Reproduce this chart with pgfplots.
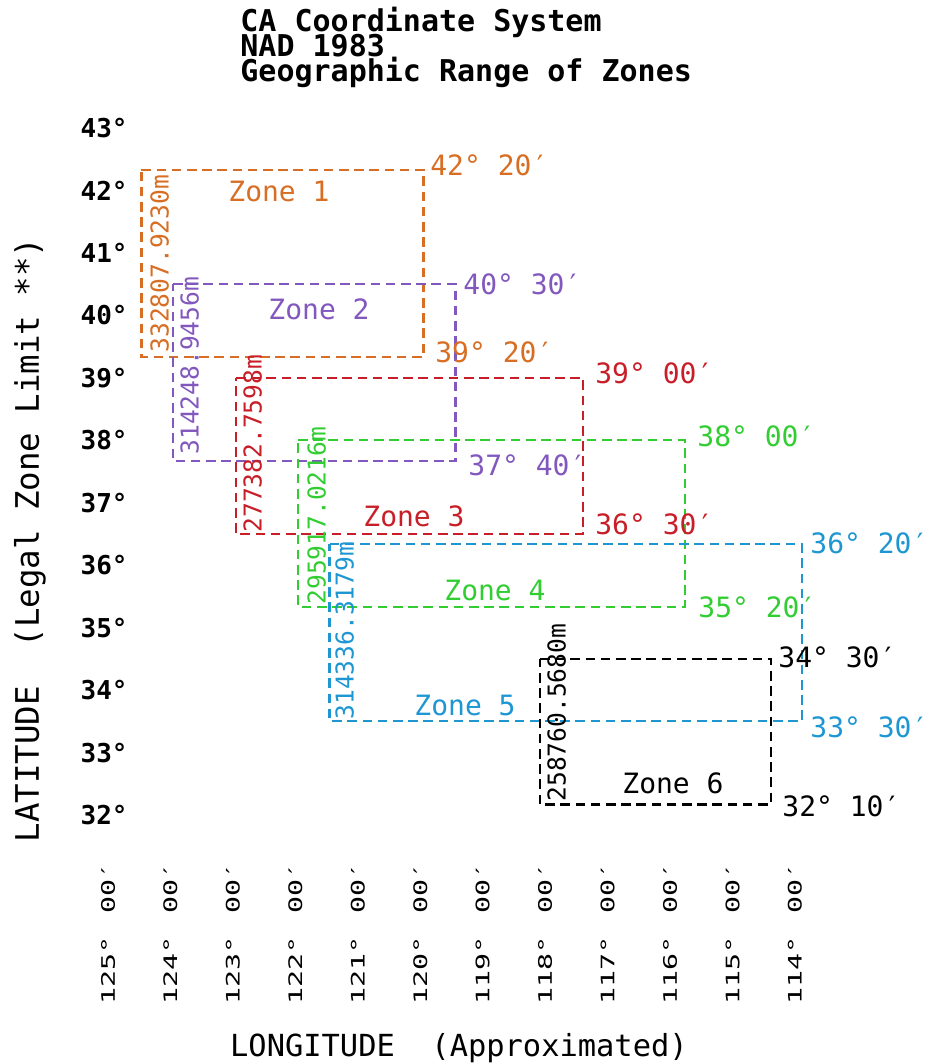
\documentclass[border=0pt]{standalone}
\usepackage{fontspec}
\setmainfont{DejaVu Sans Mono}
\newfontfamily\xtfont[FakeStretch=1.52]{DejaVu Sans Mono}
\usepackage{pgfplots}
\pgfplotsset{compat=1.18}
\definecolor{zA}{RGB}{215,110,35}
\definecolor{zB}{RGB}{130,88,190}
\definecolor{zC}{RGB}{200,30,40}
\definecolor{zD}{RGB}{50,205,50}
\definecolor{zE}{RGB}{30,150,210}
\definecolor{zF}{RGB}{0,0,0}
\newcommand{\xt}[1]{#1° \hspace{3pt}00′}
\newcommand{\titlefont}{\bfseries\fontsize{15}{12.4}\selectfont\lineskiplimit -30pt\relax}
\tikzset{
  lab/.style={font=\fontsize{14}{16}\selectfont, inner sep=0pt},
  vt/.style={rotate=90, anchor=north west, inner sep=0pt, font=\fontsize{12.3}{14}\selectfont},
  cl/.style={anchor=base west, inner sep=0pt, font=\fontsize{14}{16}\selectfont},
}
\begin{document}
\begin{tikzpicture}
\begin{axis}[
  scale only axis, width=384.07pt, height=376.0pt,
  x dir=reverse, xmin=113.0, xmax=125.3, ymin=31.2474, ymax=43.289,
  enlargelimits=false, clip=false,
  axis line style={draw=none}, major tick length=0pt,
  xtick={114,115,116,117,118,119,120,121,122,123,124,125},
  xticklabels={\xt{114},\xt{115},\xt{116},\xt{117},\xt{118},\xt{119},\xt{120},\xt{121},\xt{122},\xt{123},\xt{124},\xt{125}},
  xticklabel style={rotate=90, anchor=east, inner sep=0pt, font=\xtfont\fontsize{9.3}{11}\selectfont},
  ytick={32,33,34,35,36,37,38,39,40,41,42,43},
  yticklabels={32°,33°,34°,35°,36°,37°,38°,39°,40°,41°,42°,43°},
  yticklabel style={anchor=east, inner sep=0pt, xshift=19.37pt, font=\bfseries\fontsize{13}{15}\selectfont},
  xlabel={LONGITUDE\ \ (Approximated)},
  xlabel style={at={(axis description cs:0.4813,-0.2580)}, anchor=base, inner sep=0pt, font=\fontsize{15.2}{17}\selectfont},
  ylabel={LATITUDE\ \ (Legal Zone Limit **)},
  ylabel style={at={(axis description cs:-0.0772,0.4282)}, anchor=center, rotate=0, inner sep=0pt, font=\fontsize{16.2}{18}\selectfont},
  zone/.style={line width=1.1pt, dash pattern=on 4.8pt off 2.8pt, no marks, sharp plot},
]
% Zone 1
\addplot[zone, zA] coordinates {(124.464,42.333) (119.948,42.333) (119.948,39.333) (124.464,39.333) (124.464,42.333)};
% Zone 2
\addplot[zone, zB] coordinates {(123.959,40.5) (119.436,40.5) (119.436,37.667) (123.959,37.667) (123.959,40.5)};
% Zone 3
\addplot[zone, zC] coordinates {(122.950,39.0) (117.394,39.0) (117.394,36.5) (122.950,36.5) (122.950,39.0)};
% Zone 4
\addplot[zone, zD] coordinates {(121.958,38.0) (115.761,38.0) (115.761,35.333) (121.958,35.333) (121.958,38.0)};
% Zone 5
\addplot[zone, zE] coordinates {(121.453,36.333) (113.887,36.333) (113.887,33.5) (121.453,33.5) (121.453,36.333)};
% Zone 6
\addplot[zone, zF] coordinates {(118.083,34.5) (114.384,34.5) (114.384,32.167) (118.083,32.167) (118.083,34.5)};

% zone names
\node[lab, text=zA] at (axis cs:122.262,41.976) {Zone 1};
\node[lab, text=zB] at (axis cs:121.621,40.102) {Zone 2};
\node[lab, text=zC] at (axis cs:120.100,36.788) {Zone 3};
\node[lab, text=zD] at (axis cs:118.803,35.587) {Zone 4};
\node[lab, text=zE] at (axis cs:119.283,33.761) {Zone 5};
\node[lab, text=zF] at (axis cs:115.953,32.512) {Zone 6};

% vertical widths
\node[vt, text=zA] at (axis cs:124.327,39.398) {332807.9230m};
\node[vt, text=zB] at (axis cs:123.847,37.765) {314248.9456m};
\node[vt, text=zC] at (axis cs:122.838,36.516) {277382.7598m};
\node[vt, text=zD] at (axis cs:121.813,35.363) {295917.0216m};
\node[vt, text=zE] at (axis cs:121.365,33.521) {314336.3179m};
\node[vt, text=zF] at (axis cs:117.970,32.208) {258760.5680m};

% corner labels
\node[cl, text=zA] at (axis cs:119.844,42.232) {42° 20′};
\node[cl, text=zA] at (axis cs:119.764,39.238) {39° 20′};
\node[cl, text=zB] at (axis cs:119.315,40.327) {40° 30′};
\node[cl, text=zB] at (axis cs:119.235,37.444) {37° 40′};
\node[cl, text=zC] at (axis cs:117.202,38.902) {39° 00′};
\node[cl, text=zC] at (axis cs:117.202,36.484) {36° 30′};
\node[cl, text=zD] at (axis cs:115.568,37.893) {38° 00′};
\node[cl, text=zD] at (axis cs:115.552,35.155) {35° 20′};
\node[cl, text=zE] at (axis cs:113.759,36.195) {36° 20′};
\node[cl, text=zE] at (axis cs:113.759,33.233) {33° 30′};
\node[cl, text=zF] at (axis cs:114.271,34.354) {34° 30′};
\node[cl, text=zF] at (axis cs:114.207,31.968) {32° 10′};

% title
\node[anchor=north west, inner sep=0pt, align=left, font=\titlefont] at (axis cs:122.886,44.935) {CA Coordinate System\\NAD 1983\\Geographic Range of Zones};

\coordinate (bbA) at (axis cs:126.7294,28.0288);
\coordinate (bbB) at (axis cs:111.8054,45.0504);
\end{axis}
\pgfresetboundingbox
\path[use as bounding box] (bbA) rectangle (bbB);
\end{tikzpicture}
\end{document}
